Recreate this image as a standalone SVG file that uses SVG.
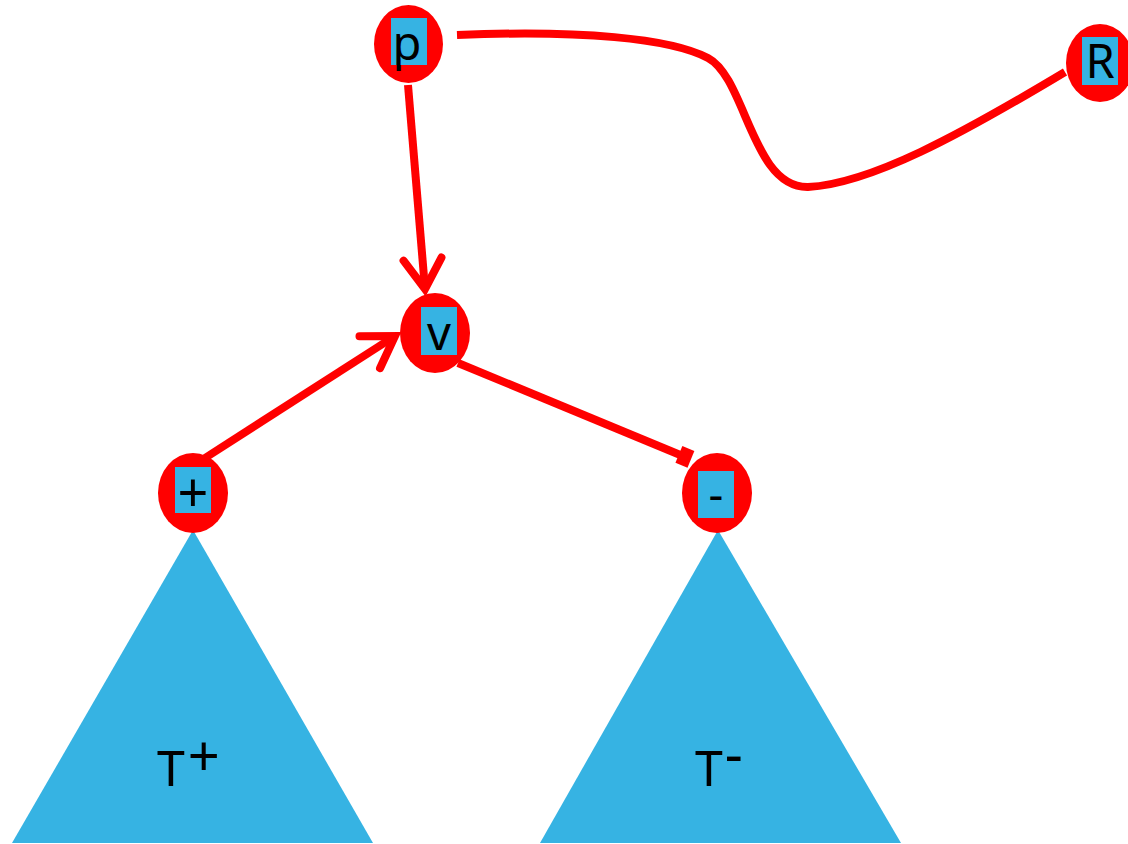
<svg xmlns="http://www.w3.org/2000/svg" width="1128" height="844" viewBox="0 0 1128 844">
  <style>
    .node { fill: #ff0000; }
    .box { fill: #36b3e3; }
    .tree { fill: #36b3e3; }
    .lbl { font-family: "Noto Sans", "Open Sans", sans-serif; font-size: 47px; fill: #000; text-anchor: middle; }
    .tlbl { font-family: "Noto Sans", "Open Sans", sans-serif; font-size: 50px; fill: #000; }
    .edge { fill: none; stroke: #ff0000; stroke-width: 8; }
  </style>
  <defs>
    <marker id="chevron" markerUnits="userSpaceOnUse" viewBox="-40 -25 48 50" refX="0" refY="0" markerWidth="48" markerHeight="50" orient="auto" overflow="visible">
      <path d="M-30,-19 L0,0 L-30,19" fill="none" stroke="#ff0000" stroke-width="8" stroke-linecap="round" stroke-linejoin="miter"/>
    </marker>
    <marker id="bar" markerUnits="userSpaceOnUse" viewBox="-14 -10 16 20" refX="0" refY="0" markerWidth="16" markerHeight="20" orient="auto" overflow="visible">
      <rect x="-12" y="-9" width="13" height="18" fill="#ff0000"/>
    </marker>
  </defs>

  <!-- subtrees -->
  <g id="tree-plus">
    <polygon class="tree" points="193,530 373,843 12,843"/>
    <text class="tlbl" x="157" y="786">T<tspan dx="3" dy="-10" style="font-size:56px">+</tspan></text>
  </g>
  <g id="tree-minus">
    <polygon class="tree" points="718,530 901,843 540,843"/>
    <text class="tlbl" x="695" y="786">T<tspan dx="2" dy="-12" style="font-size:56px">-</tspan></text>
  </g>

  <!-- connectors -->
  <g id="edges">
    <path class="edge" d="M408,85 L425,289" marker-end="url(#chevron)"/>
    <path class="edge" d="M205,458 L395,336" marker-end="url(#chevron)"/>
    <path class="edge" d="M458,363 L690,459" marker-end="url(#bar)"/>
    <path class="edge" d="M457,35 C580,30 670,38 708,58 C746,78 752,188 808,187 C870,184 960,135 1065,72"/>
  </g>

  <!-- nodes -->
  <g id="node-p">
    <ellipse class="node" cx="408.5" cy="44" rx="34.5" ry="39"/>
    <rect class="box" x="391" y="18" width="36" height="47"/>
    <text class="lbl" x="407" y="60">p</text>
  </g>
  <g id="node-R">
    <ellipse class="node" cx="1100" cy="63" rx="34" ry="39"/>
    <rect class="box" x="1082" y="37" width="36" height="48"/>
    <text class="lbl" x="1100" y="78">R</text>
  </g>
  <g id="node-v">
    <ellipse class="node" cx="435" cy="333" rx="35" ry="40"/>
    <rect class="box" x="421" y="307" width="36" height="48"/>
    <text class="lbl" x="439" y="350">v</text>
  </g>
  <g id="node-plus">
    <ellipse class="node" cx="193" cy="493" rx="35" ry="40"/>
    <rect class="box" x="175" y="467" width="36" height="46"/>
    <text class="lbl" x="193" y="512" style="font-size:54px">+</text>
  </g>
  <g id="node-minus">
    <ellipse class="node" cx="717" cy="493" rx="35" ry="40"/>
    <rect class="box" x="698" y="471" width="36" height="47"/>
    <text class="lbl" x="716" y="510" style="font-size:46px">-</text>
  </g>
</svg>
